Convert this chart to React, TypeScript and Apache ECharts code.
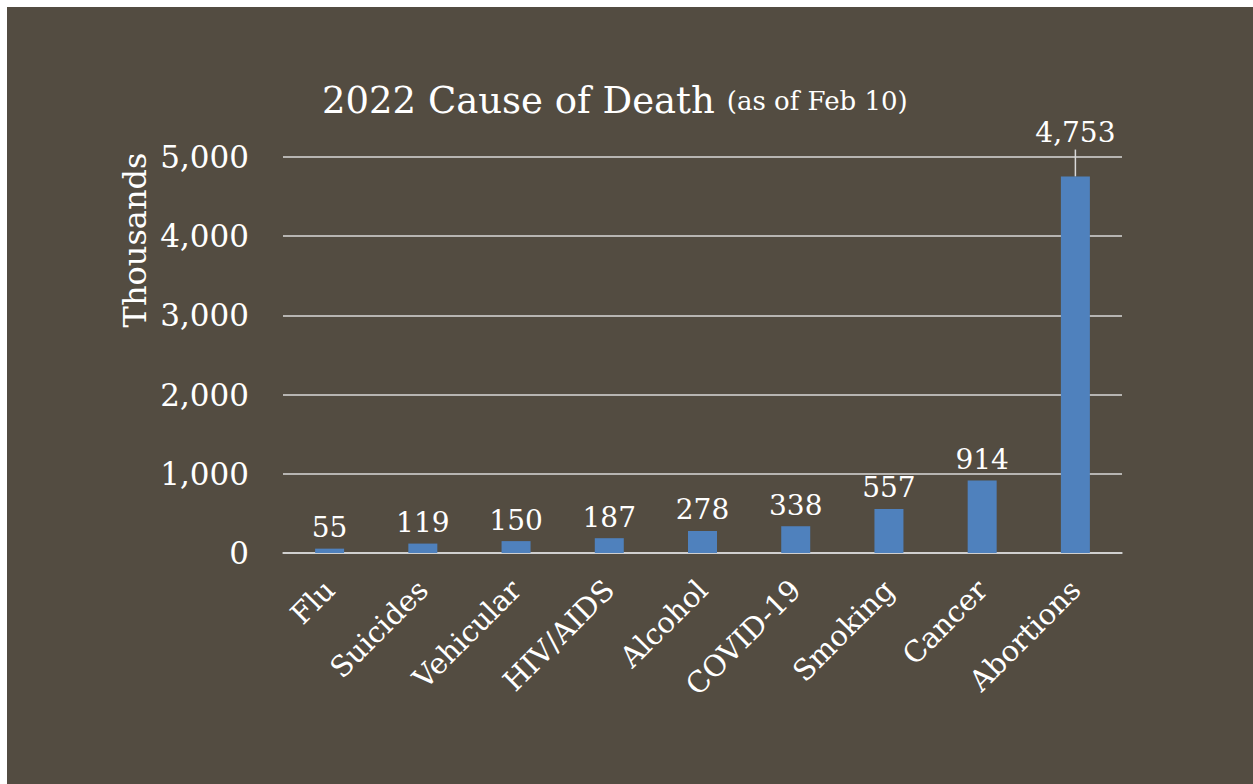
import React, { useEffect, useRef } from "react";
import * as echarts from "echarts";

const categories = ["Flu", "Suicides", "Vehicular", "HIV/AIDS", "Alcohol", "COVID-19", "Smoking", "Cancer", "Abortions"];
const values = [55, 119, 150, 187, 278, 338, 557, 914, 4753];
const yTicks = [0, 1000, 2000, 3000, 4000, 5000];
const titleMain = "2022 Cause of Death";
const titleSub = "(as of Feb 10)";
const yAxisName = "Thousands";

const FONT = "'DejaVu Serif', Georgia, serif";
const BG = "#534c41";
const FG = "#ffffff";

const fmt = (v: number) => v.toLocaleString("en-US");

export default function App() {
  const ref = useRef<HTMLDivElement>(null);
  useEffect(() => {
    if (!ref.current) return;
    const chart = echarts.init(ref.current, undefined, { renderer: "svg" });
    const last = values.length - 1;
    chart.setOption({
      animation: false,
      backgroundColor: BG,
      title: {
        text: `{a|${titleMain}}{b|${titleSub}}`,
        left: 310,
        top: 70,
        textStyle: {
          rich: {
            a: { fontFamily: FONT, fontSize: 37, fontWeight: "normal", color: FG, padding: [0, 12, 0, 0] },
            b: { fontFamily: FONT, fontSize: 26, fontWeight: "normal", color: FG },
          },
        },
      },
      grid: { left: 276, top: 150, width: 839, height: 396, containLabel: false, outerBoundsMode: "none" },
      xAxis: {
        type: "category",
        data: categories,
        axisLine: { show: true, lineStyle: { color: "#d9d9d9", width: 1.5 } },
        axisTick: { show: false },
        axisLabel: {
          rotate: 45,
          interval: 0,
          margin: 32,
          color: FG,
          fontFamily: FONT,
          fontSize: 29,
        },
      },
      yAxis: {
        type: "value",
        min: yTicks[0],
        max: yTicks[yTicks.length - 1],
        interval: 1000,
        axisLine: { show: false },
        axisTick: { show: false },
        splitLine: { lineStyle: { color: "#d9d9d9", width: 1.5 } },
        axisLabel: {
          color: FG,
          fontFamily: FONT,
          fontSize: 31,
          margin: 34,
          formatter: (v: number) => fmt(v),
        },
      },
      series: [
        {
          type: "bar",
          data: values.map((v, i) =>
            i === last
              ? { value: v, label: { distance: 30 } }
              : v
          ),
          barWidth: 29,
          itemStyle: { color: "#4f81bd" },
          label: {
            show: true,
            position: "top",
            distance: 7,
            color: FG,
            fontFamily: FONT,
            fontSize: 28,
            formatter: (p: any) => fmt(p.value),
          },
        },
      ],
    });
    const p0 = chart.convertToPixel({ seriesIndex: 0 }, [last, values[last]]) as number[];
    chart.setOption({
      graphic: [
        {
          id: "yname",
          type: "text",
          x: 128,
          y: 233,
          rotation: Math.PI / 2,
          style: {
            text: yAxisName,
            fill: FG,
            font: `32px ${FONT}`,
            textAlign: "center",
            textVerticalAlign: "middle",
          },
        },
        {
          id: "leader",
          type: "line",
          shape: { x1: p0[0], y1: p0[1], x2: p0[0], y2: p0[1] - 27 },
          style: { stroke: "#d9d9d9", lineWidth: 1.5 },
        },
      ],
    });
    return () => chart.dispose();
  }, []);
  return (
    <div
      ref={ref}
      style={{ position: "absolute", left: 7, top: 7, width: 1246, height: 777 }}
    />
  );
}
